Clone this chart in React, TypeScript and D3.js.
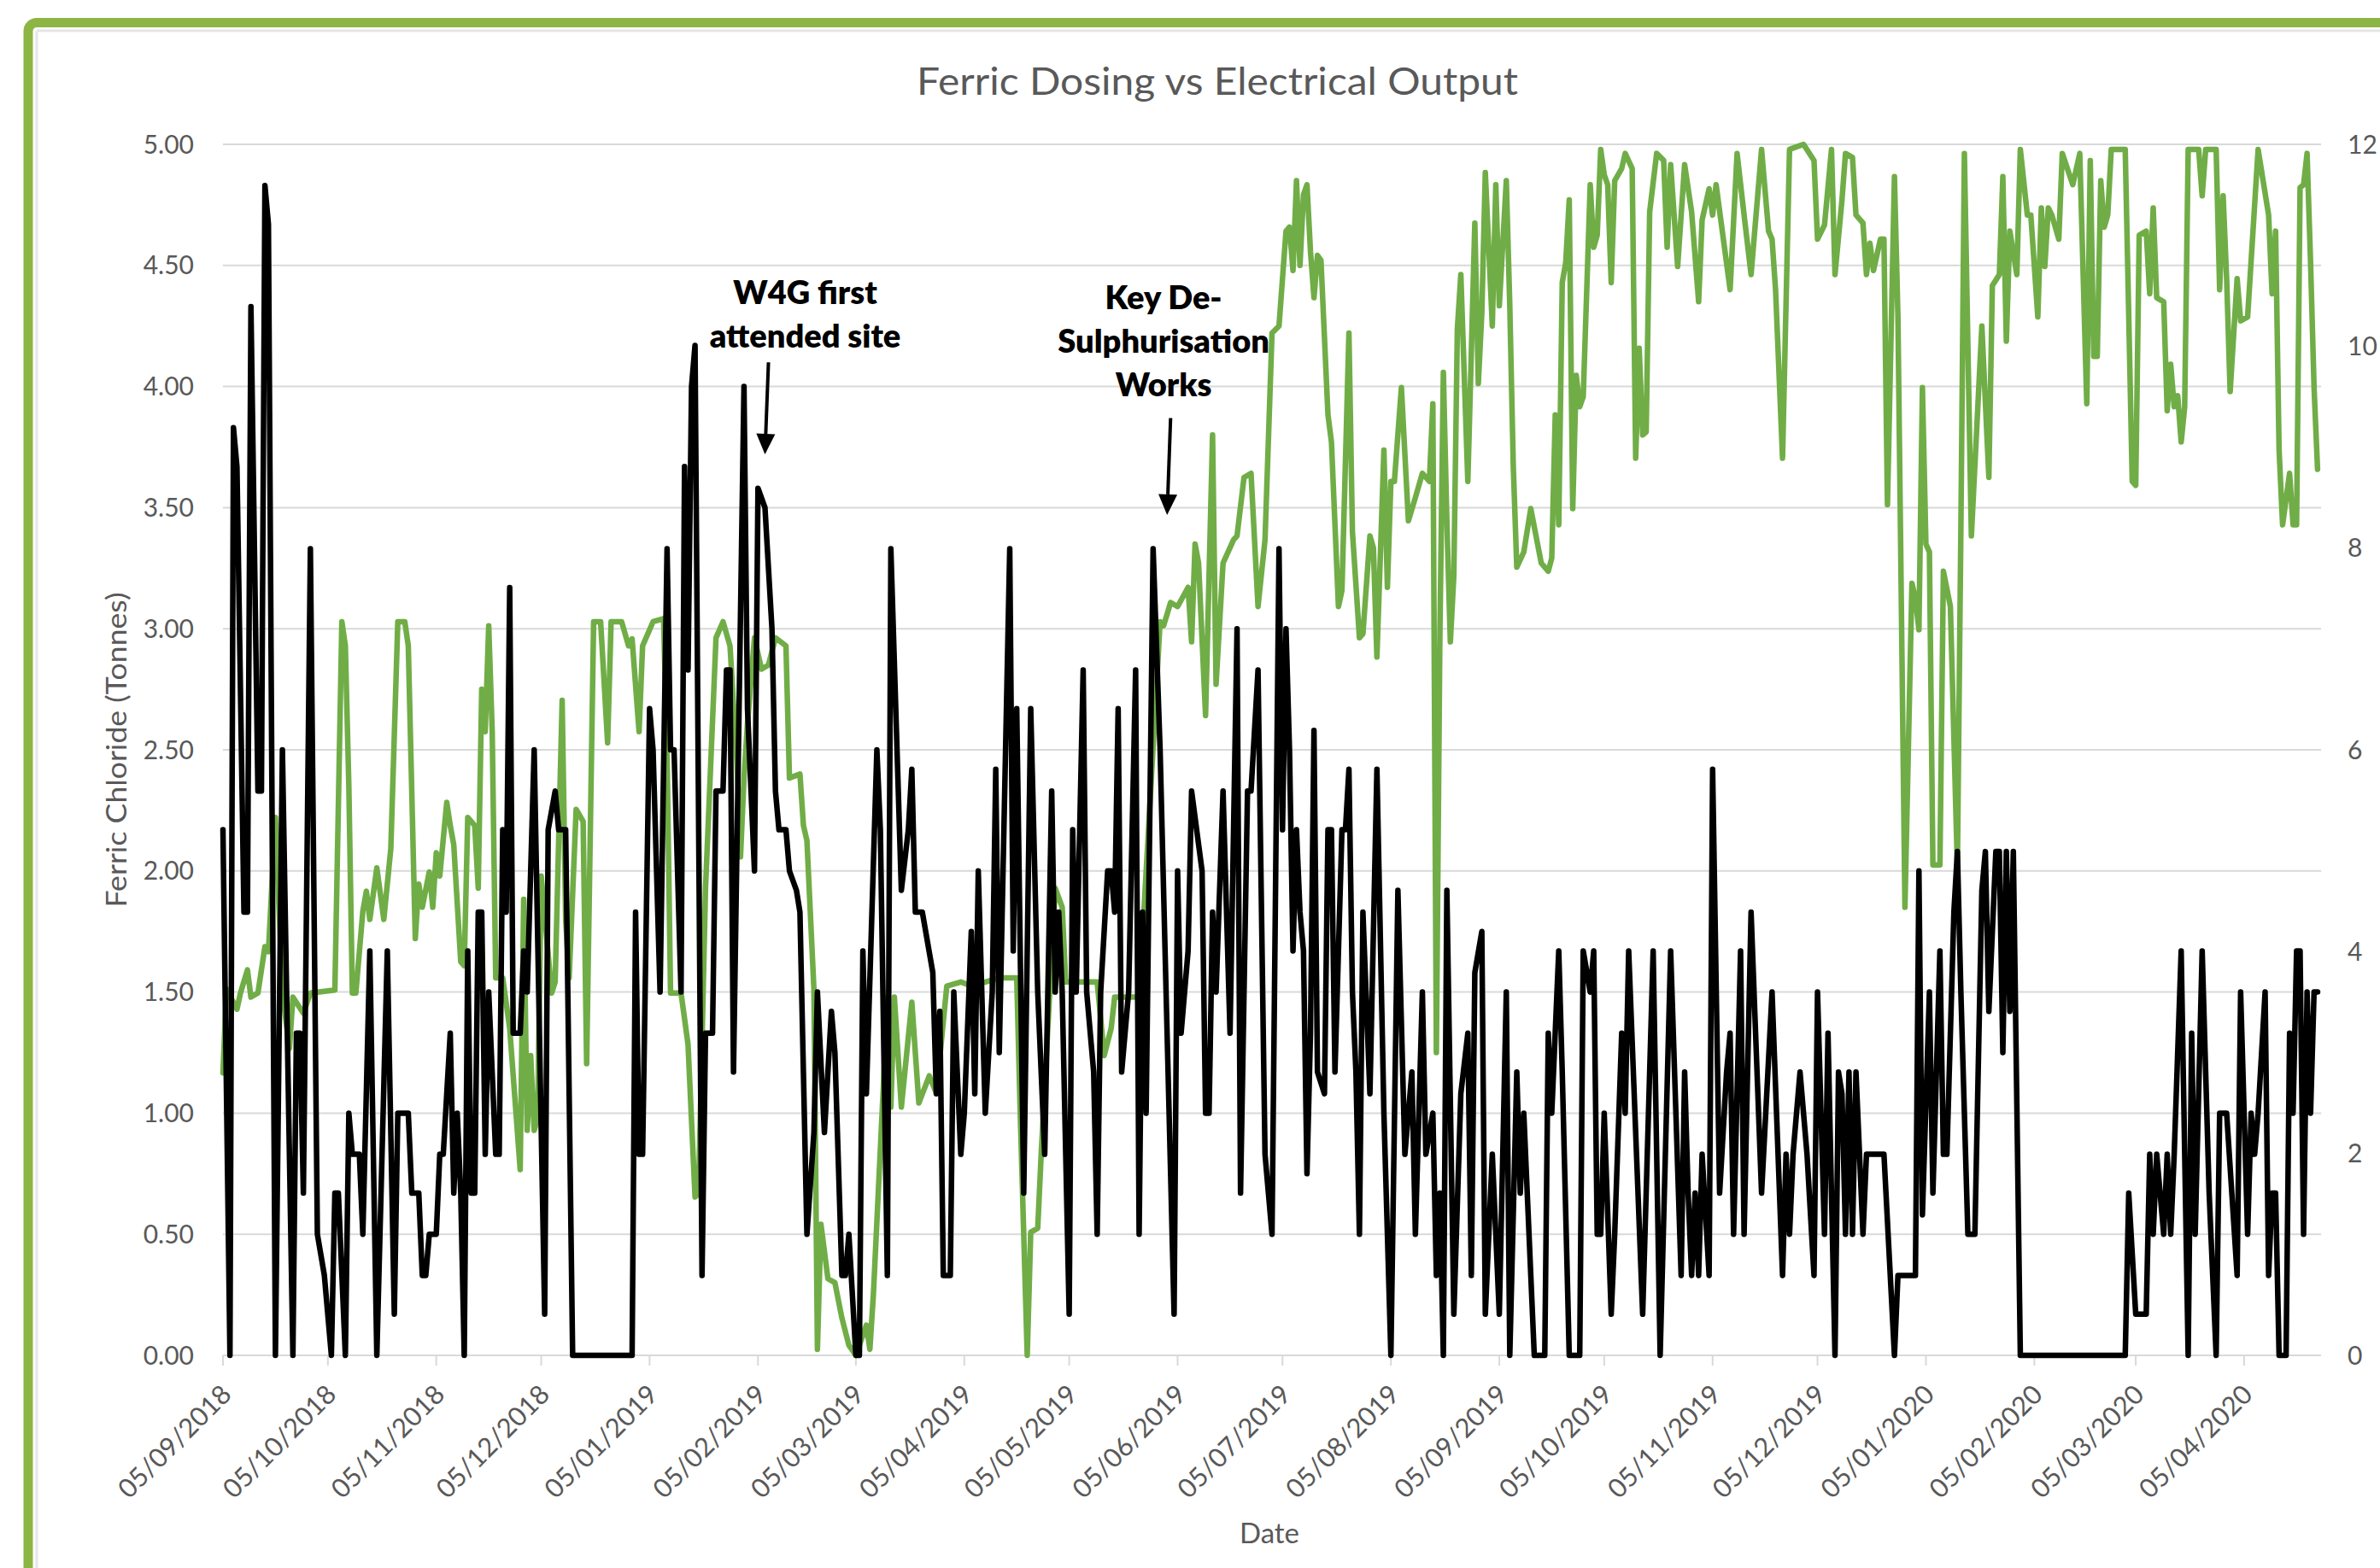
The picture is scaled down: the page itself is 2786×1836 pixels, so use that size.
import React from "react";
import * as d3 from "d3";

// day offsets are counted from 05/09/2018
const START = Date.UTC(2018, 8, 5);
const LAST_DAY = 600;
const DAY_MS = 864e5;

const monthTicks = d3.range(0, 20).map((m) => new Date(Date.UTC(2018, 8 + m, 5)));
const leftTicks = d3.range(0, 10.5).map((i) => i * 0.5);
const rightTicks = [0, 2, 4, 6, 8, 10, 12];

// Ferric chloride dosed (tonnes), [day, value]
const ferricPoints: [number, number][] = [
  [0, 2.17], [2, 0], [3, 3.83], [4, 3.67], [6, 1.83], [7, 1.83], [8, 4.33], [10, 2.33], [11, 2.33],
  [12, 4.83], [13, 4.67], [15, 0], [17, 2.5], [20, 0], [21, 1.33], [22, 1.33], [23, 0.67], [25, 3.33],
  [27, 0.5], [29, 0.33], [31, 0], [32, 0.67], [33, 0.67], [35, 0], [36, 1.0], [37, 0.83], [39, 0.83],
  [40, 0.5], [42, 1.67], [44, 0], [47, 1.67], [49, 0.17], [50, 1.0], [53, 1.0], [54, 0.67], [56, 0.67],
  [57, 0.33], [58, 0.33], [59, 0.5], [61, 0.5], [62, 0.83], [63, 0.83], [65, 1.33], [66, 0.67],
  [67, 1.0], [68, 0.67], [69, 0], [70, 1.67], [71, 0.67], [72, 0.67], [73, 1.83], [74, 1.83],
  [75, 0.83], [76, 1.5], [78, 0.83], [79, 0.83], [80, 2.17], [81, 1.83], [82, 3.17], [83, 1.33],
  [85, 1.33], [86, 1.67], [87, 1.5], [89, 2.5], [92, 0.17], [93, 2.17], [95, 2.33], [96, 2.17],
  [98, 2.17], [100, 0], [117, 0], [118, 1.83], [119, 0.83], [120, 0.83], [122, 2.67], [123, 2.5],
  [125, 1.5], [127, 3.33], [128, 2.5], [129, 2.5], [131, 1.5], [132, 3.67], [133, 2.83], [134, 4.0],
  [135, 4.17], [137, 0.33], [138, 1.33], [140, 1.33], [141, 2.33], [143, 2.33], [144, 2.83],
  [145, 2.83], [146, 1.17], [149, 4.0], [150, 2.67], [152, 2.0], [153, 3.58], [155, 3.5], [157, 3.0],
  [158, 2.33], [159, 2.17], [161, 2.17], [162, 2.0], [164, 1.92], [165, 1.83], [167, 0.5],
  [169, 0.92], [170, 1.5], [172, 0.92], [174, 1.42], [175, 1.25], [177, 0.33], [178, 0.33],
  [179, 0.5], [181, 0], [182, 0], [183, 1.67], [184, 1.08], [187, 2.5], [188, 2.17], [190, 0.33],
  [191, 3.33], [194, 1.92], [196, 2.17], [197, 2.42], [198, 1.83], [200, 1.83], [203, 1.58],
  [204, 1.08], [205, 1.42], [206, 0.33], [208, 0.33], [209, 1.5], [211, 0.83], [212, 1.0],
  [214, 1.75], [215, 1.08], [216, 2.0], [218, 1.0], [220, 1.5], [221, 2.42], [222, 1.25],
  [225, 3.33], [226, 1.67], [227, 2.67], [229, 0.67], [231, 2.67], [233, 1.5], [235, 0.83],
  [237, 2.33], [238, 1.5], [239, 1.83], [240, 1.5], [242, 0.17], [243, 2.17], [244, 1.5],
  [246, 2.83], [247, 1.5], [249, 1.17], [250, 0.5], [251, 1.5], [253, 2.0], [254, 2.0], [255, 1.83],
  [256, 2.67], [257, 1.17], [259, 1.5], [261, 2.83], [262, 0.5], [263, 1.83], [264, 1.0],
  [266, 3.33], [268, 2.5], [270, 1.33], [272, 0.17], [273, 2.0], [274, 1.33], [276, 1.67],
  [277, 2.33], [280, 2.0], [281, 1.0], [282, 1.0], [283, 1.83], [284, 1.5], [286, 2.33],
  [288, 1.33], [290, 3.0], [291, 0.67], [293, 2.33], [294, 2.33], [296, 2.83], [298, 0.83],
  [300, 0.5], [302, 3.33], [303, 2.17], [304, 3.0], [305, 2.5], [306, 1.67], [307, 2.17],
  [308, 1.83], [309, 1.67], [310, 0.75], [311, 1.33], [312, 2.58], [313, 1.17], [315, 1.08],
  [316, 2.17], [317, 2.17], [318, 1.17], [320, 2.17], [321, 2.17], [322, 2.42], [323, 1.5],
  [324, 1.17], [325, 0.5], [326, 1.83], [328, 1.08], [330, 2.42], [332, 1.0], [334, 0],
  [336, 1.92], [338, 0.83], [340, 1.17], [341, 0.5], [343, 1.5], [344, 0.83], [346, 1.0],
  [347, 0.33], [348, 0.67], [349, 0], [350, 1.92], [352, 0.17], [354, 1.08], [356, 1.33],
  [357, 0.33], [358, 1.58], [360, 1.75], [361, 0.17], [363, 0.83], [365, 0.17], [367, 1.5],
  [368, 0], [370, 1.17], [371, 0.67], [372, 1.0], [375, 0], [378, 0], [379, 1.33], [380, 1.0],
  [382, 1.67], [383, 1.17], [385, 0], [388, 0], [389, 1.67], [391, 1.5], [392, 1.67], [393, 0.5],
  [394, 0.5], [395, 1.0], [397, 0.17], [398, 0.5], [400, 1.33], [401, 1.0], [402, 1.67],
  [406, 0.17], [409, 1.67], [411, 0], [414, 1.67], [417, 0.33], [418, 1.17], [419, 0.67],
  [420, 0.33], [421, 0.67], [422, 0.33], [423, 0.83], [425, 0.33], [426, 2.42], [428, 0.67],
  [430, 1.17], [431, 1.33], [432, 0.5], [434, 1.67], [435, 0.5], [436, 1.17], [437, 1.83],
  [440, 0.67], [443, 1.5], [446, 0.33], [447, 0.83], [448, 0.5], [449, 0.83], [451, 1.17],
  [453, 0.83], [455, 0.33], [456, 1.5], [458, 0.5], [459, 1.33], [461, 0], [462, 1.17],
  [463, 1.08], [464, 0.5], [465, 1.17], [466, 0.5], [467, 1.17], [469, 0.5], [470, 0.83],
  [475, 0.83], [478, 0], [479, 0.33], [484, 0.33], [485, 2.0], [486, 0.58], [488, 1.5],
  [489, 0.67], [491, 1.67], [492, 0.83], [493, 0.83], [495, 1.83], [496, 2.08], [497, 1.5],
  [499, 0.5], [501, 0.5], [503, 1.92], [504, 2.08], [505, 1.42], [507, 2.08], [508, 2.08],
  [509, 1.25], [510, 2.08], [511, 1.42], [512, 2.08], [514, 0], [544, 0], [545, 0.67],
  [547, 0.17], [550, 0.17], [551, 0.83], [552, 0.5], [553, 0.83], [555, 0.5], [556, 0.83],
  [557, 0.5], [558, 0.83], [560, 1.67], [562, 0], [563, 1.33], [564, 0.5], [566, 1.67],
  [568, 0.67], [570, 0], [571, 1.0], [573, 1.0], [576, 0.33], [577, 1.5], [579, 0.5], [580, 1.0],
  [581, 0.83], [582, 1.0], [584, 1.5], [585, 0.33], [586, 0.67], [587, 0.67], [588, 0], [590, 0],
  [591, 1.33], [592, 1.0], [593, 1.67], [594, 1.67], [595, 0.5], [596, 1.5], [597, 1.0],
  [598, 1.5], [599, 1.5],
];

// Electrical output (right axis), [day, value]
const outputPoints: [number, number][] = [
  [0, 2.8], [1, 3.63], [4, 3.43], [5, 3.59], [7, 3.82], [8, 3.55], [10, 3.59], [12, 4.05],
  [13, 4.0], [15, 5.33], [17, 3.6], [19, 3.04], [20, 3.55], [23, 3.39], [25, 3.59], [32, 3.62],
  [34, 7.27], [35, 7.03], [36, 5.64], [37, 3.59], [38, 3.59], [40, 4.4], [41, 4.6], [42, 4.32],
  [44, 4.83], [46, 4.32], [48, 5.02], [50, 7.27], [52, 7.27], [53, 7.03], [55, 4.13], [56, 4.67],
  [57, 4.44], [59, 4.79], [60, 4.44], [61, 4.98], [62, 4.75], [64, 5.48], [65, 5.25], [66, 5.06],
  [68, 3.9], [69, 3.86], [70, 5.33], [72, 5.25], [73, 4.63], [74, 6.6], [75, 6.18], [76, 7.23],
  [77, 6.18], [78, 3.74], [80, 3.74], [82, 3.24], [85, 1.84], [86, 4.52], [87, 2.23], [88, 2.97],
  [89, 2.23], [90, 2.35], [91, 4.75], [94, 3.59], [95, 3.7], [97, 6.49], [98, 4.32], [99, 3.74],
  [101, 5.41], [103, 5.29], [104, 2.89], [106, 7.27], [108, 7.27], [110, 6.07], [111, 7.27],
  [114, 7.27], [116, 7.03], [117, 7.1], [119, 6.18], [120, 7.03], [123, 7.27], [126, 7.3],
  [127, 5.95], [128, 3.59], [131, 3.59], [133, 3.08], [135, 1.57], [136, 1.6], [138, 4.63],
  [141, 7.11], [143, 7.27], [145, 7.03], [147, 5.87], [148, 4.94], [149, 5.72], [150, 6.26],
  [152, 7.11], [154, 6.8], [156, 6.84], [158, 7.11], [161, 7.03], [162, 5.72], [165, 5.76],
  [166, 5.25], [167, 5.1], [169, 3.63], [170, 0.06], [171, 1.3], [173, 0.76], [175, 0.72],
  [177, 0.37], [179, 0.1], [181, 0], [184, 0.3], [185, 0.06], [186, 0.6], [189, 2.77], [190, 3.55],
  [191, 2.46], [192, 3.55], [194, 2.46], [197, 3.5], [199, 2.5], [202, 2.77], [204, 2.6],
  [207, 3.66], [211, 3.7], [214, 3.66], [218, 3.7], [222, 3.74], [227, 3.74], [228, 2.4],
  [230, 0], [231, 1.22], [233, 1.26], [234, 2.0], [238, 4.63], [240, 4.44], [241, 3.7], [250, 3.7],
  [252, 2.97], [254, 3.24], [255, 3.55], [262, 3.55], [266, 6.03], [268, 7.27], [269, 7.23],
  [271, 7.46], [273, 7.42], [276, 7.61], [277, 7.07], [278, 8.04], [279, 7.85], [281, 6.34],
  [283, 9.12], [284, 6.65], [286, 7.85], [289, 8.08], [290, 8.12], [292, 8.7], [294, 8.74],
  [296, 7.42], [298, 8.08], [300, 10.13], [302, 10.2], [304, 11.14], [305, 11.18], [306, 10.75],
  [307, 11.64], [308, 10.8], [309, 11.5], [310, 11.6], [311, 10.94], [312, 10.48], [313, 10.9],
  [314, 10.85], [316, 9.32], [317, 9.05], [319, 7.42], [320, 7.58], [322, 10.13], [323, 8.16],
  [325, 7.11], [326, 7.15], [328, 8.12], [329, 8.0], [330, 6.92], [332, 8.97], [333, 7.61],
  [334, 8.66], [335, 8.66], [337, 9.59], [339, 8.27], [341, 8.5], [343, 8.74], [345, 8.66],
  [346, 9.43], [347, 3.0], [348, 7.11], [349, 9.74], [350, 8.27], [351, 7.07], [352, 7.73],
  [353, 10.17], [354, 10.71], [356, 8.66], [358, 11.22], [359, 9.63], [360, 10.33], [361, 11.72],
  [363, 10.2], [364, 11.6], [365, 10.4], [367, 11.64], [368, 10.4], [369, 8.81], [370, 7.81],
  [372, 7.96], [374, 8.39], [377, 7.85], [379, 7.77], [380, 7.9], [381, 9.32], [382, 8.23],
  [383, 10.63], [384, 10.83], [385, 11.45], [386, 8.39], [387, 9.71], [388, 9.4], [389, 9.5],
  [391, 11.6], [392, 10.98], [393, 11.1], [394, 11.95], [395, 11.7], [396, 11.6], [397, 10.63],
  [398, 11.64], [400, 11.76], [401, 11.91], [403, 11.76], [404, 8.89], [405, 9.98], [406, 9.12],
  [407, 9.15], [408, 11.33], [410, 11.91], [412, 11.84], [413, 10.98], [414, 11.8], [416, 10.79],
  [418, 11.8], [420, 11.33], [422, 10.44], [423, 11.25], [425, 11.56], [426, 11.3], [427, 11.6],
  [431, 10.56], [433, 11.91], [435, 11.3], [437, 10.71], [440, 11.95], [442, 11.14], [443, 11.06],
  [444, 10.56], [446, 8.89], [448, 11.95], [452, 12], [455, 11.84], [456, 11.06], [458, 11.2],
  [460, 11.95], [461, 10.71], [463, 11.45], [464, 11.91], [466, 11.87], [467, 11.3], [469, 11.22],
  [470, 10.71], [471, 11.02], [472, 10.75], [474, 11.06], [475, 11.06], [476, 8.43], [478, 11.68],
  [479, 10.29], [481, 4.44], [483, 7.65], [484, 7.5], [485, 7.19], [486, 9.59], [487, 8.04],
  [488, 7.96], [489, 4.86], [491, 4.86], [492, 7.77], [494, 7.42], [496, 4.83], [497, 8.2],
  [498, 11.91], [500, 8.12], [503, 10.2], [505, 8.7], [506, 10.6], [508, 10.71], [509, 11.68],
  [510, 10.05], [511, 11.14], [513, 10.71], [514, 11.95], [516, 11.3], [517, 11.3], [519, 10.29],
  [520, 11.37], [521, 10.79], [522, 11.37], [523, 11.3], [525, 11.06], [526, 11.91], [529, 11.6],
  [531, 11.91], [533, 9.43], [534, 11.84], [535, 9.9], [536, 9.9], [537, 11.64], [538, 11.18],
  [539, 11.3], [540, 11.95], [544, 11.95], [546, 8.66], [547, 8.62], [548, 11.1], [550, 11.14],
  [551, 10.52], [552, 11.37], [553, 10.48], [555, 10.44], [556, 9.36], [557, 9.82], [558, 9.4],
  [559, 9.51], [560, 9.05], [561, 9.4], [562, 11.95], [565, 11.95], [566, 11.49], [567, 11.95],
  [570, 11.95], [571, 10.56], [572, 11.49], [573, 10.67], [574, 9.55], [576, 10.67], [577, 10.25],
  [579, 10.29], [582, 11.95], [585, 11.3], [586, 10.52], [587, 11.14], [588, 8.97], [589, 8.23],
  [591, 8.74], [592, 8.23], [593, 8.23], [594, 11.57], [595, 11.6], [596, 11.91], [597, 10.83],
  [598, 9.59], [599, 8.78],
];

const annotations = [
  { lines: ["W4G first", "attended site"], textDay: 166.5, textValue: 4.34, fromDay: 156, fromValue: 4.1, toDay: 155, toValue: 3.72 },
  { lines: ["Key De-", "Sulphurisation", "Works"], textDay: 269, textValue: 4.32, fromDay: 271, fromValue: 3.87, toDay: 270, toValue: 3.47 },
];

const W = 2786;
const H = 1836;
const plot = { left: 261, right: 2717, top: 169, bottom: 1587 };
const FONT = "Lato, 'Open Sans', sans-serif";
const GREY = "#595959";

const toDate = (d: number) => new Date(START + d * DAY_MS);

export default function App() {
  const x = d3.scaleUtc().domain([toDate(0), toDate(LAST_DAY)]).range([plot.left, plot.right]);
  const yLeft = d3.scaleLinear().domain([0, 5]).range([plot.bottom, plot.top]);
  const yRight = d3.scaleLinear().domain([0, 12]).range([plot.bottom, plot.top]);
  const fmt = d3.utcFormat("%d/%m/%Y");

  const ferricLine = d3
    .line<[number, number]>()
    .x((p) => x(toDate(p[0])))
    .y((p) => yLeft(p[1]));
  const outputLine = d3
    .line<[number, number]>()
    .x((p) => x(toDate(p[0])))
    .y((p) => yRight(p[1]));

  const ferric = [...ferricPoints].sort((a, b) => a[0] - b[0]);
  const output = [...outputPoints].sort((a, b) => a[0] - b[0]);

  return (
    <div style={{ position: "absolute", left: 0, top: 0 }}>
      <svg width={W} height={H} style={{ display: "block", background: "#fff" }}>
        {/* outer frame */}
        <rect x={33} y={26.5} width={W + 200} height={H + 200} rx={10} fill="none" stroke="#8db543" strokeWidth={11} />
        <line x1={43} x2={43} y1={36} y2={H} stroke="#e6e6e6" strokeWidth={3} />
        <line x1={43} x2={W} y1={36} y2={36} stroke="#e6e6e6" strokeWidth={3} />

        <text
          x={1425}
          y={96}
          dy="0.35em"
          textAnchor="middle"
          fontFamily={FONT}
          fontSize={44}
          fill={GREY}
          textLength={704}
          lengthAdjust="spacingAndGlyphs"
        >
          Ferric Dosing vs Electrical Output
        </text>

        {/* gridlines */}
        {leftTicks.map((t) => (
          <line key={t} x1={plot.left} x2={plot.right} y1={yLeft(t)} y2={yLeft(t)} stroke="#d9d9d9" strokeWidth={2} />
        ))}
        {monthTicks.map((d) => (
          <line key={+d} x1={x(d)} x2={x(d)} y1={plot.bottom} y2={plot.bottom + 12} stroke="#d9d9d9" strokeWidth={2} />
        ))}

        {/* left axis */}
        {leftTicks.map((t) => (
          <text key={t} x={227} y={yLeft(t)} dy="0.35em" textAnchor="end" fontFamily={FONT} fontSize={30} fill={GREY}>
            {t.toFixed(2)}
          </text>
        ))}
        <text
          transform={`translate(137, 878) rotate(-90)`}
          dy="0.35em"
          textAnchor="middle"
          fontFamily={FONT}
          fontSize={32}
          fill={GREY}
          textLength={369}
          lengthAdjust="spacingAndGlyphs"
        >
          Ferric Chloride (Tonnes)
        </text>

        {/* right axis */}
        {rightTicks.map((t) => (
          <text key={t} x={2748} y={yRight(t)} dy="0.35em" textAnchor="start" fontFamily={FONT} fontSize={30} fill={GREY}>
            {t}
          </text>
        ))}

        {/* x axis */}
        {monthTicks.map((d) => (
          <text
            key={+d}
            transform={`translate(${x(d) + 4}, ${plot.bottom + 40}) rotate(-45)`}
            dy="0.35em"
            textAnchor="end"
            fontFamily={FONT}
            fontSize={31}
            fill={GREY}
          >
            {fmt(d)}
          </text>
        ))}
        <text x={1486} y={1795} dy="0.35em" textAnchor="middle" fontFamily={FONT} fontSize={33} fill={GREY}>
          Date
        </text>

        {/* series */}
        <path d={outputLine(output) || ""} fill="none" stroke="#70ad47" strokeWidth={6.5} strokeLinejoin="round" strokeLinecap="round" />
        <path d={ferricLine(ferric) || ""} fill="none" stroke="#000" strokeWidth={6.5} strokeLinejoin="round" strokeLinecap="round" />

        {/* annotations */}
        {annotations.map((a, i) => {
          const x1 = x(toDate(a.fromDay));
          const y1 = yLeft(a.fromValue);
          const x2 = x(toDate(a.toDay));
          const y2 = yLeft(a.toValue);
          const ang = Math.atan2(y2 - y1, x2 - x1);
          const len = 24;
          const half = 11;
          const bx = x2 - len * Math.cos(ang);
          const by = y2 - len * Math.sin(ang);
          const px = -Math.sin(ang) * half;
          const py = Math.cos(ang) * half;
          return (
            <g key={i}>
              {a.lines.map((l, j) => (
                <text
                  key={j}
                  x={x(toDate(a.textDay))}
                  y={yLeft(a.textValue) + j * 51}
                  textAnchor="middle"
                  fontFamily={FONT}
                  fontWeight={800}
                  fontSize={38}
                  fill="#000"
                >
                  {l}
                </text>
              ))}
              <line x1={x1} y1={y1} x2={bx} y2={by} stroke="#000" strokeWidth={4} />
              <polygon points={`${x2},${y2} ${bx + px},${by + py} ${bx - px},${by - py}`} fill="#000" />
            </g>
          );
        })}
      </svg>
    </div>
  );
}
